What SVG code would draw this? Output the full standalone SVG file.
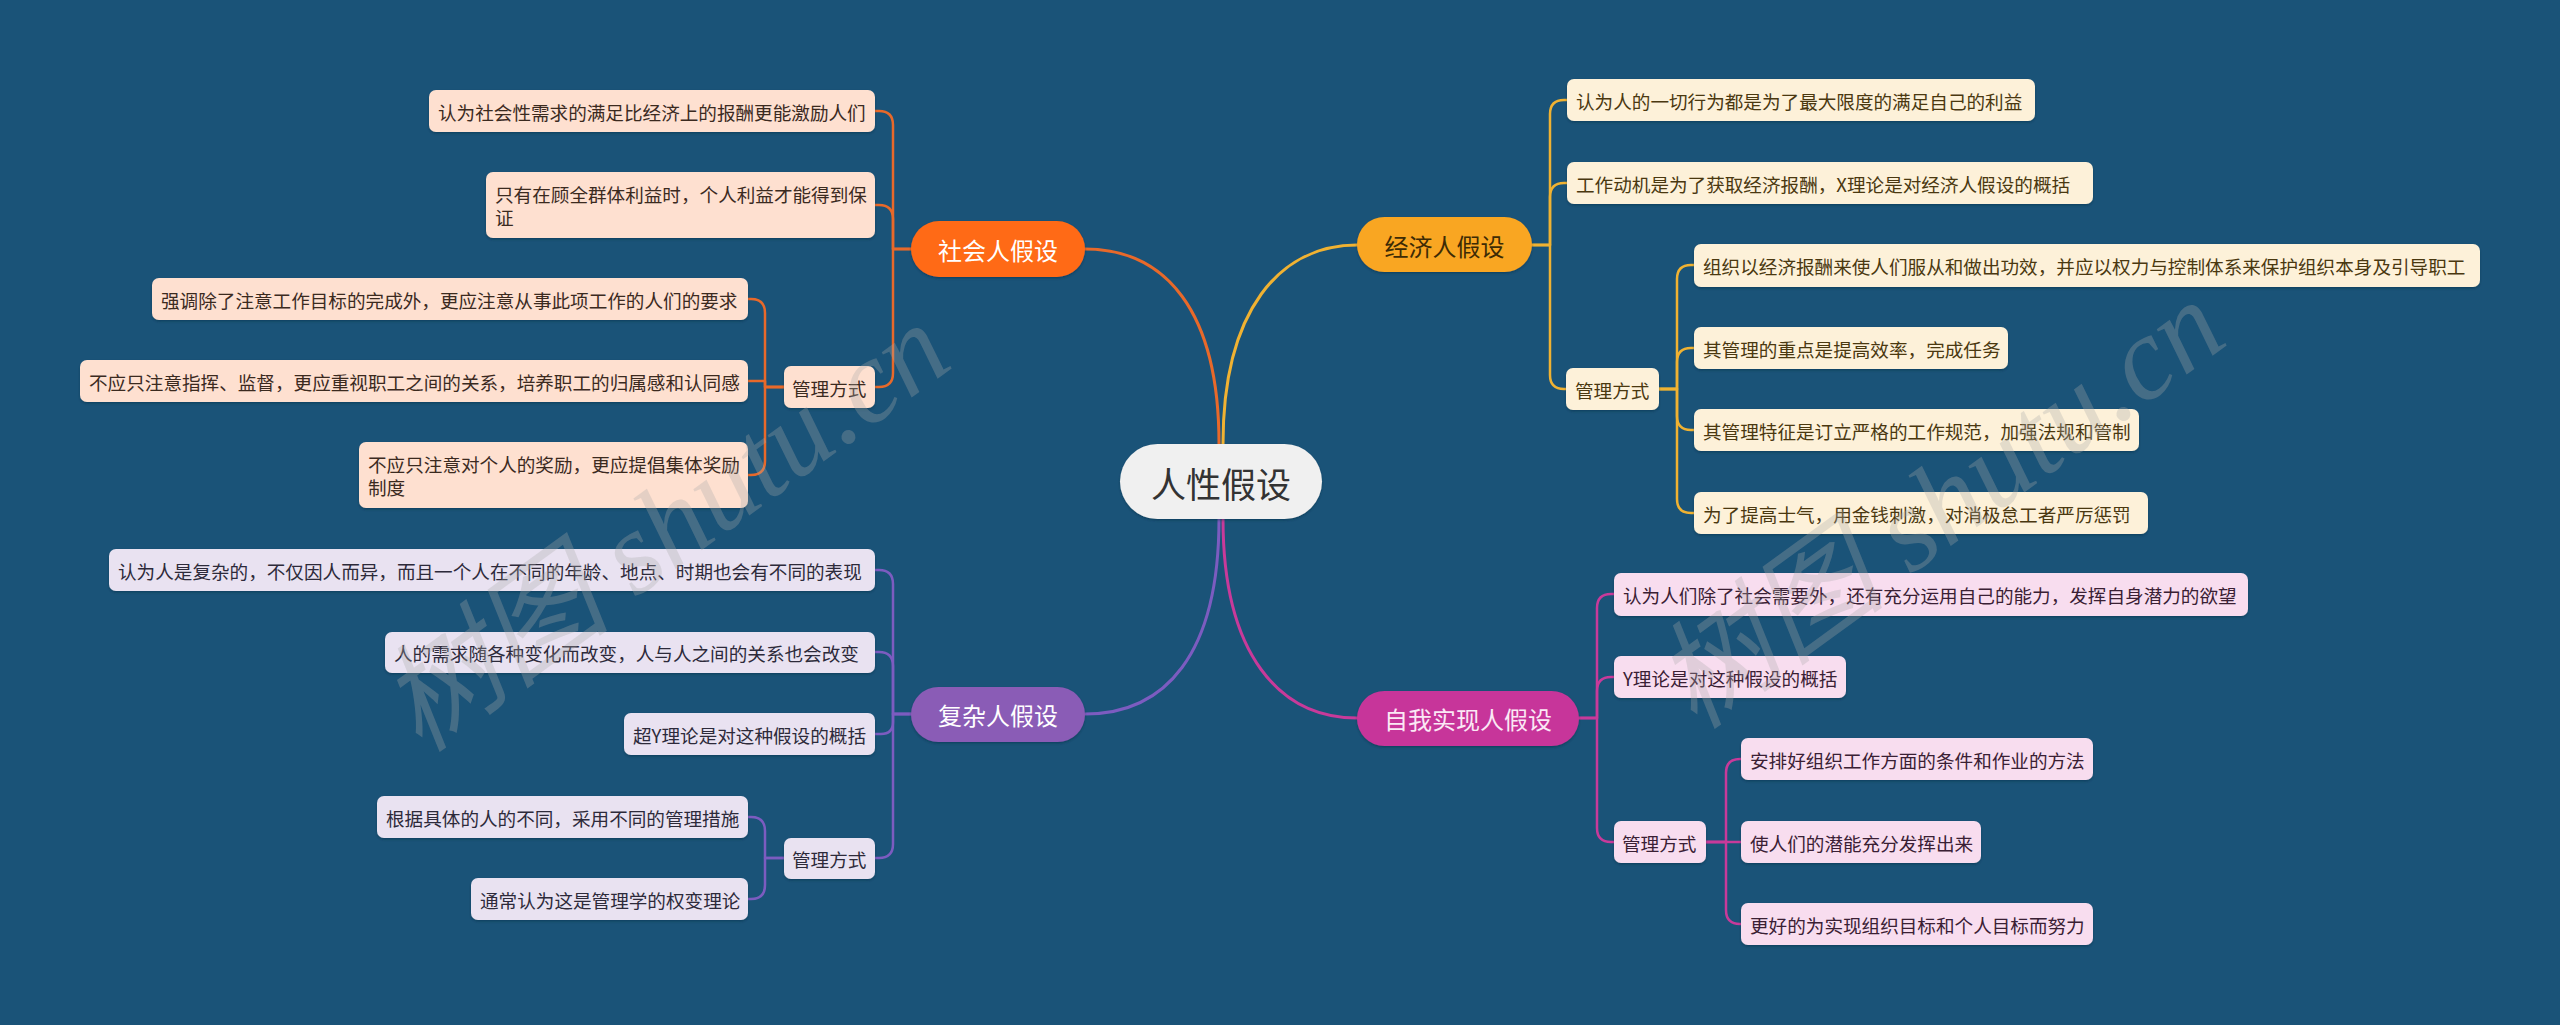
<svg xmlns="http://www.w3.org/2000/svg" width="2560" height="1025" viewBox="0 0 2560 1025">
<defs>
<filter id="sh" x="-5%" y="-20%" width="110%" height="150%">
<feDropShadow dx="0" dy="1.5" stdDeviation="1" flood-color="#0a2a40" flood-opacity="0.45"/>
</filter>
</defs>
<style>
text{font-family:"Noto Sans CJK SC","Noto Sans",sans-serif;dominant-baseline:central}
.leaf{font-size:18.6px}
.br{font-size:24px;text-anchor:middle}
.so rect{fill:#fee0d0}
.so text{fill:#3b2a1f}
.ec rect{fill:#fdf1d9}
.ec text{fill:#4a3810}
.cx rect{fill:#e9e2f1}
.cx text{fill:#2d2a3a}
.sa rect{fill:#f8ddef}
.sa text{fill:#3a2034}
.node rect{filter:url(#sh)}
.c{fill:none;stroke-linecap:round;stroke-linejoin:round}
.c1{stroke:#e8692a}
.c2{stroke:#f0b232}
.c3{stroke:#7c5cc0}
.c4{stroke:#c83a9a}
.wm{font-family:"Liberation Serif","Noto Sans CJK SC",serif;font-style:italic;font-size:118px;fill:#a8a8a8;fill-opacity:0.3;text-anchor:middle}
</style>
<rect x="0" y="0" width="2560" height="1025" fill="#1a5378"/>

<g id="connectors">
<g class="c" stroke-width="3">
<path class="c1" d="M1219,444 C1219,310 1165,249 1085,249"/>
<path class="c2" d="M1223,444 C1223,310 1280,245 1357,245"/>
<path class="c3" d="M1219,519 C1219,655 1165,714 1085,714"/>
<path class="c4" d="M1223,519 C1223,655 1280,718 1357,718"/>
</g>
<g class="c" stroke-width="2.5">
<path class="c1" d="M911,249 H893 V125 Q893,111 879,111 H875"/>
<path class="c1" d="M911,249 H893 V219 Q893,205 879,205 H875"/>
<path class="c1" d="M911,249 H893 V373 Q893,387 879,387 H875"/>
<path class="c1" d="M784,387 H765 V313 Q765,299 751,299 H748"/>
<path class="c1" d="M784,387 H765 V381 H748"/>
<path class="c1" d="M784,387 H765 V461 Q765,475 751,475 H748"/>

<path class="c3" d="M911,714 H893 V584 Q893,570 879,570 H875"/>
<path class="c3" d="M911,714 H893 V666 Q893,652 879,652 H875"/>
<path class="c3" d="M911,714 H893 V722 Q893,734 881,734 H875"/>
<path class="c3" d="M911,714 H893 V844 Q893,858 879,858 H875"/>
<path class="c3" d="M784,858 H765 V831 Q765,817 751,817 H748"/>
<path class="c3" d="M784,858 H765 V885 Q765,899 751,899 H748"/>

<path class="c2" d="M1532,245 H1550 V114 Q1550,100 1564,100 H1567"/>
<path class="c2" d="M1532,245 H1550 V197 Q1550,183 1564,183 H1567"/>
<path class="c2" d="M1532,245 H1550 V375 Q1550,389 1564,389 H1566"/>
<path class="c2" d="M1659,389 H1677 V279 Q1677,265 1691,265 H1694"/>
<path class="c2" d="M1659,389 H1677 V362 Q1677,348 1691,348 H1694"/>
<path class="c2" d="M1659,389 H1677 V416 Q1677,430 1691,430 H1694"/>
<path class="c2" d="M1659,389 H1677 V499 Q1677,513 1691,513 H1694"/>

<path class="c4" d="M1579,718 H1597 V608 Q1597,594 1611,594 H1614"/>
<path class="c4" d="M1579,718 H1597 V691 Q1597,677 1611,677 H1614"/>
<path class="c4" d="M1579,718 H1597 V828 Q1597,842 1611,842 H1614"/>
<path class="c4" d="M1706,842 H1726 V773 Q1726,759 1740,759 H1741"/>
<path class="c4" d="M1706,842 H1741"/>
<path class="c4" d="M1706,842 H1726 V910 Q1726,924 1740,924 H1741"/>
</g>
</g>

<g id="root" class="node">
<rect x="1120" y="444" width="202" height="75" rx="37.5" fill="#f0f0f0"/>
<text x="1221" y="482" font-size="35" text-anchor="middle" fill="#333333">人性假设</text>
</g>

<g id="b-social" class="node">
<rect x="911" y="221" width="174" height="56" rx="28" fill="#ff6a12"/>
<text class="br" x="998" y="249" fill="#ffffff">社会人假设</text>
</g>
<g id="b-econ" class="node">
<rect x="1357" y="217" width="175" height="55" rx="27.5" fill="#f9a620"/>
<text class="br" x="1444.5" y="245" fill="#3d2b05">经济人假设</text>
</g>
<g id="b-complex" class="node">
<rect x="911" y="687" width="174" height="55" rx="27.5" fill="#8a5bb6"/>
<text class="br" x="998" y="714.5" fill="#ffffff">复杂人假设</text>
</g>
<g id="b-self" class="node">
<rect x="1357" y="691" width="222" height="55" rx="27.5" fill="#c7359a"/>
<text class="br" x="1468" y="718.5" fill="#fbe8f5">自我实现人假设</text>
</g>

<g class="so">
<g id="s1" class="node"><rect x="429" y="90" width="446" height="42" rx="7"/><text class="leaf" x="438" y="111">认为社会性需求的满足比经济上的报酬更能激励人们</text></g>
<g id="s2" class="node"><rect x="486" y="172" width="389" height="66" rx="7"/><text class="leaf" x="495" y="193.5">只有在顾全群体利益时，个人利益才能得到保</text><text class="leaf" x="495" y="216.5">证</text></g>
<g id="s-m" class="node"><rect x="784" y="366" width="91" height="42" rx="7"/><text class="leaf" x="792" y="387">管理方式</text></g>
<g id="s3" class="node"><rect x="152" y="278" width="596" height="42" rx="7"/><text class="leaf" x="161" y="299">强调除了注意工作目标的完成外，更应注意从事此项工作的人们的要求</text></g>
<g id="s4" class="node"><rect x="80" y="360" width="668" height="42" rx="7"/><text class="leaf" x="89" y="381">不应只注意指挥、监督，更应重视职工之间的关系，培养职工的归属感和认同感</text></g>
<g id="s5" class="node"><rect x="359" y="442" width="389" height="66" rx="7"/><text class="leaf" x="368" y="463.5">不应只注意对个人的奖励，更应提倡集体奖励</text><text class="leaf" x="368" y="486.5">制度</text></g>
</g>

<g class="cx">
<g id="c1" class="node"><rect x="109" y="549" width="766" height="42" rx="7"/><text class="leaf" x="118" y="570">认为人是复杂的，不仅因人而异，而且一个人在不同的年龄、地点、时期也会有不同的表现</text></g>
<g id="c2" class="node"><rect x="385" y="632" width="490" height="41" rx="7"/><text class="leaf" x="394" y="652.5">人的需求随各种变化而改变，人与人之间的关系也会改变</text></g>
<g id="c3" class="node"><rect x="624" y="713" width="251" height="42" rx="7"/><text class="leaf" x="633" y="734">超Y理论是对这种假设的概括</text></g>
<g id="c-m" class="node"><rect x="784" y="838" width="91" height="41" rx="7"/><text class="leaf" x="792" y="858.5">管理方式</text></g>
<g id="c4" class="node"><rect x="377" y="796" width="371" height="42" rx="7"/><text class="leaf" x="386" y="817">根据具体的人的不同，采用不同的管理措施</text></g>
<g id="c5" class="node"><rect x="471" y="878" width="277" height="42" rx="7"/><text class="leaf" x="480" y="899">通常认为这是管理学的权变理论</text></g>
</g>

<g class="ec">
<g id="e1" class="node"><rect x="1567" y="79" width="468" height="42" rx="7"/><text class="leaf" x="1576" y="100">认为人的一切行为都是为了最大限度的满足自己的利益</text></g>
<g id="e2" class="node"><rect x="1567" y="162" width="526" height="42" rx="7"/><text class="leaf" x="1576" y="183">工作动机是为了获取经济报酬，X理论是对经济人假设的概括</text></g>
<g id="e-m" class="node"><rect x="1566" y="368" width="93" height="42" rx="7"/><text class="leaf" x="1575" y="389">管理方式</text></g>
<g id="e3" class="node"><rect x="1694" y="244" width="786" height="43" rx="7"/><text class="leaf" x="1703" y="265.5">组织以经济报酬来使人们服从和做出功效，并应以权力与控制体系来保护组织本身及引导职工</text></g>
<g id="e4" class="node"><rect x="1694" y="327" width="314" height="42" rx="7"/><text class="leaf" x="1703" y="348">其管理的重点是提高效率，完成任务</text></g>
<g id="e5" class="node"><rect x="1694" y="409" width="445" height="42" rx="7"/><text class="leaf" x="1703" y="430">其管理特征是订立严格的工作规范，加强法规和管制</text></g>
<g id="e6" class="node"><rect x="1694" y="492" width="454" height="42" rx="7"/><text class="leaf" x="1703" y="513">为了提高士气，用金钱刺激，对消极怠工者严厉惩罚</text></g>
</g>

<g class="sa">
<g id="a1" class="node"><rect x="1614" y="573" width="634" height="43" rx="7"/><text class="leaf" x="1623" y="594.5">认为人们除了社会需要外，还有充分运用自己的能力，发挥自身潜力的欲望</text></g>
<g id="a2" class="node"><rect x="1614" y="656" width="232" height="42" rx="7"/><text class="leaf" x="1623" y="677">Y理论是对这种假设的概括</text></g>
<g id="a-m" class="node"><rect x="1614" y="821" width="92" height="42" rx="7"/><text class="leaf" x="1622" y="842">管理方式</text></g>
<g id="a3" class="node"><rect x="1741" y="738" width="352" height="42" rx="7"/><text class="leaf" x="1750" y="759">安排好组织工作方面的条件和作业的方法</text></g>
<g id="a4" class="node"><rect x="1741" y="821" width="240" height="42" rx="7"/><text class="leaf" x="1750" y="842">使人们的潜能充分发挥出来</text></g>
<g id="a5" class="node"><rect x="1741" y="903" width="352" height="42" rx="7"/><text class="leaf" x="1750" y="924">更好的为实现组织目标和个人目标而努力</text></g>
</g>

<g id="watermark">
<text class="wm" transform="translate(665,528) rotate(-36)">树图 shutu.cn</text>
<text class="wm" transform="translate(1940,505) rotate(-36)">树图 shutu.cn</text>
</g>
</svg>
